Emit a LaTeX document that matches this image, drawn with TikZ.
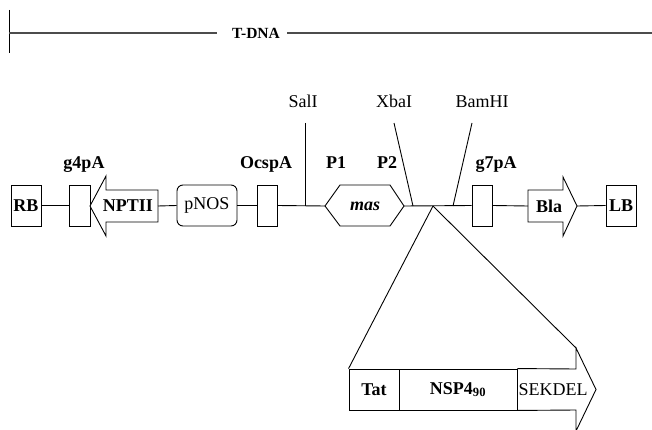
\documentclass[tikz,border=0pt]{standalone}
\usepackage{fontspec}
\setmainfont{Liberation Serif}
\begin{document}
\begin{tikzpicture}[x=1pt,y=-1pt, line width=0.9pt, line join=miter,
  box/.style={draw, rectangle, minimum height=41pt, inner sep=0pt, font=\fontsize{18}{20}\selectfont\bfseries},
  lbl/.style={font=\fontsize{18}{20}\selectfont\bfseries, anchor=base, inner sep=0pt},
  site/.style={font=\fontsize{18}{20}\selectfont, anchor=base, inner sep=0pt},
  txt/.style={inner sep=0pt, font=\fontsize{18}{20}\selectfont\bfseries},
  tdna/.style={line width=1.5pt, draw=black!70}]
\useasboundingbox (0,0) rectangle (652,430);

% T-DNA bar
\node[inner sep=0pt, font=\fontsize{15.5}{17}\selectfont\bfseries] (TDNA) at (256,33) {T-DNA};
\coordinate (tk1) at (9,10);
\coordinate (tk2) at (9,53);
\coordinate (tl0) at (9,33);
\coordinate (tl1) at (217,33);
\coordinate (tr0) at (287,33);
\coordinate (tr1) at (652,33);
\draw (tk1) -- (tk2);
\draw[tdna] (tl0) -- (tl1);
\draw[tdna] (tr0) -- (tr1);

% boxes
\node[box, minimum width=30pt] (RB) at (26,205.5) {RB};
\node[box, minimum width=21pt] (g4) at (79.5,205.5) {};
\node[lbl] (g4l) at (84,169) {g4pA};

% NPTII arrow (pointing left)
\coordinate (nptTip) at (90,206);
\coordinate (nptEnd) at (158,206);
\draw[fill=white] (nptTip) -- (106,176) -- (106,190) -- (158,190) -- (158,222) -- (106,222) -- (106,236) -- cycle;
\node[txt] (NPTII) at (128,206) {NPTII};

\node[draw, rounded corners=6pt, minimum width=60pt, minimum height=41pt, inner sep=0pt,
      font=\fontsize{18}{20}\selectfont] (pNOS) at (207,205.5) {pNOS};

\node[box, minimum width=20pt] (ocs) at (267,205.5) {};
\node[lbl] (ocsl) at (266,169) {OcspA};

% SalI
\coordinate (sal0) at (305,123);
\coordinate (sal1) at (305,206);
\draw (sal0) -- (sal1);
\node[site] (SalI) at (303,108) {SalI};

% mas hexagon
\coordinate (masL) at (325,206);
\coordinate (masR) at (404,206);
\draw (masL) -- (340,185) -- (390,185) -- (masR) -- (390,226) -- (340,226) -- cycle;
\node[txt, font=\fontsize{18}{20}\selectfont\bfseries\itshape] (mas) at (365,206) {mas};
\node[lbl] (P1) at (336,169) {P1};
\node[lbl] (P2) at (387,169) {P2};

% XbaI, BamHI
\coordinate (xba0) at (394,123);
\coordinate (xba1) at (413,206);
\draw (xba0) -- (xba1);
\node[site] (XbaI) at (394,108) {XbaI};
\coordinate (bam0) at (472,123);
\coordinate (bam1) at (453,206);
\draw (bam0) -- (bam1);
\node[site] (BamHI) at (482,108) {BamHI};

\node[box, minimum width=20pt] (g7) at (482,205.5) {};
\node[lbl] (g7l) at (496,169) {g7pA};

% Bla arrow
\coordinate (blaL) at (528,206);
\coordinate (blaTip) at (577,206);
\draw (blaL) -- (528,190) -- (563,190) -- (563,177) -- (blaTip) -- (563,236) -- (563,222) -- (528,222) -- cycle;
\node[txt] (Bla) at (549,206) {Bla};

\node[box, minimum width=30pt] (LB) at (621,205.5) {LB};

% backbone line
\draw (RB.east) -- (g4.west);
\draw (nptEnd) -- (pNOS.west);
\draw (pNOS.east) -- (ocs.west);
\draw (ocs.east) -- (masL);
\draw (masR) -- (g7.west);
\draw (g7.east) -- (blaL);
\draw (blaTip) -- (LB.west);

% expansion
\coordinate (apex) at (433,206);
\node[box, minimum width=50pt] (Tat) at (374,389.5) {Tat};
\node[box, minimum width=118pt] (NSP) at (458,389.5) {NSP4\textsubscript{90}};
\coordinate (sekL) at (517,389.5);
\coordinate (sekHT) at (576,348);
\coordinate (sekTip) at (596,389.5);
\draw (NSP.north east) -- (576,369) -- (sekHT) -- (sekTip) -- (576,431) -- (576,410) -- (NSP.south east);
\node[inner sep=0pt, font=\fontsize{18}{20}\selectfont] (SEK) at (553,389.5) {SEKDEL};
\draw (apex) -- (Tat.north west);
\draw (apex) -- (sekHT);
\end{tikzpicture}
\end{document}
